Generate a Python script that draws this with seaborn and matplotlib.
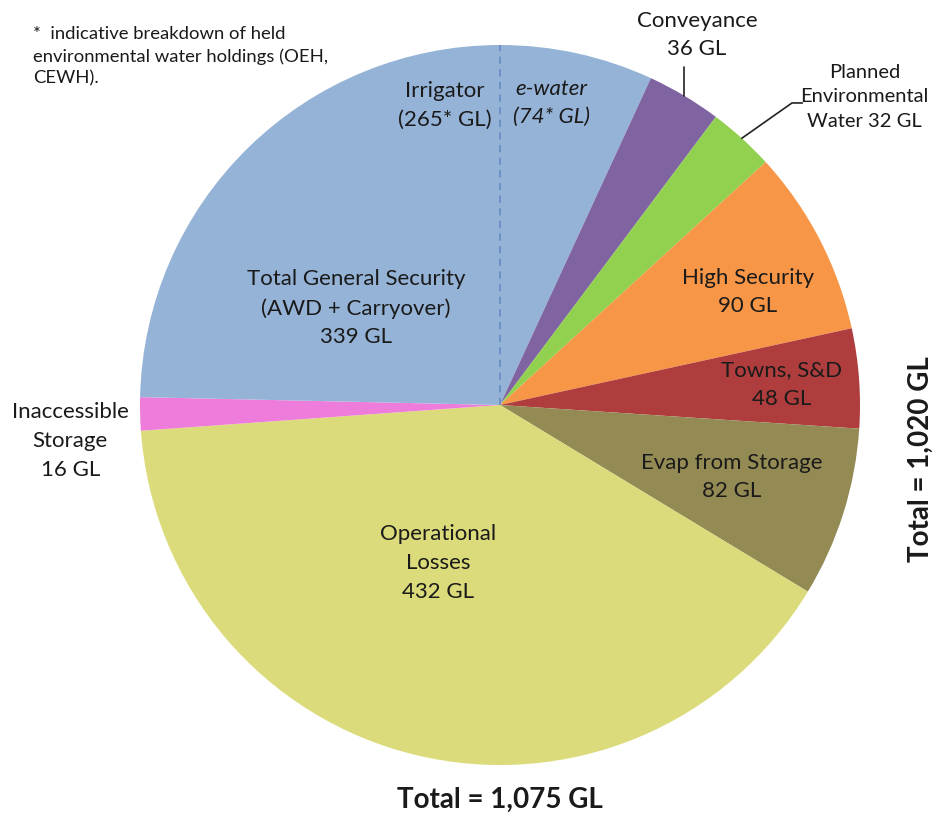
import numpy as np
import matplotlib
matplotlib.use("Agg")
import matplotlib.pyplot as plt
import seaborn as sns

# Data (GL), clockwise from 12 o'clock
categories = ["e-water", "Conveyance", "Planned Environmental Water", "High Security",
              "Towns, S&D", "Evap from Storage", "Operational Losses",
              "Inaccessible Storage", "Irrigator"]
values = [74, 36, 32, 90, 48, 82, 432, 16, 265]
colors = ["#95B3D7", "#8064A2", "#92D050", "#F79646", "#AF3D3D",
          "#948A54", "#DBDB7B", "#EE7CDA", "#95B3D7"]

sns.set_theme(style="white")
plt.rcParams['font.family'] = ['Lato', 'DejaVu Sans']

fig = plt.figure(figsize=(9.36, 8.14), dpi=100)
W, H = 936, 814
cx, cy, R = 500, 405, 360
ax = fig.add_axes([(cx - R) / W, (H - cy - R) / H, 2 * R / W, 2 * R / H])
wedges, _ = ax.pie(values, colors=sns.color_palette(colors), startangle=90,
                   counterclock=False, radius=1.0,
                   wedgeprops=dict(linewidth=0, edgecolor="none"))
ax.set_xlim(-1, 1)
ax.set_ylim(-1, 1)
ax.set_aspect("equal")
ax.axis("off")

# dashed divider between Irrigator and e-water (start of the pie)
a0 = np.deg2rad(wedges[0].theta2)
ax.plot([0, np.cos(a0)], [0, np.sin(a0)], ls=(0, (4, 3)), color="#6A8EC4", lw=1.3)

fs = 16
tc = "#1a1a1a"
def lab(x, y, s, **kw):
    kw.setdefault("fontsize", fs)
    kw.setdefault("linespacing", 1.55)
    ax.text(x, y, s, ha="center", va="center", color=tc,
            clip_on=False, **kw)

lab(-0.153, 0.833, "Irrigator\n(265* GL)")
lab(0.144, 0.839, "e-water\n(74* GL)", style="italic")
lab(-0.40, 0.269, "Total General Security\n(AWD + Carryover)\n339 GL")
lab(0.547, 1.028, "Conveyance\n36 GL")
lab(1.012, 0.856, "Planned\nEnvironmental\nWater 32 GL", fontsize=14.5, linespacing=1.55)
lab(0.689, 0.314, "High Security\n90 GL")
lab(0.783, 0.058, "Towns, S&D\n48 GL")
lab(0.644, -0.20, "Evap from Storage\n82 GL")
lab(-0.172, -0.439, "Operational\nLosses\n432 GL")
lab(-1.194, -0.10, "Inaccessible\nStorage\n16 GL")

# leader lines
w = wedges[1]
m = np.deg2rad((w.theta1 + w.theta2) / 2)
ax.plot([np.cos(m), np.cos(m)], [np.sin(m), 0.94], color="#222222", lw=1.2, clip_on=False)
w = wedges[2]
m = np.deg2rad((w.theta1 + w.theta2) / 2)
ax.plot([np.cos(m), 0.811, 0.84], [np.sin(m), 0.839, 0.839], color="#222222", lw=1.2,
        clip_on=False)

fig.text(33 / W, 1 - 26 / H, "*  indicative breakdown of held\nenvironmental water holdings (OEH,\nCEWH).",
         ha="left", va="top", fontsize=13.3, color=tc, linespacing=1.45)
fig.text(500 / W, 1 - 800 / H, "Total = 1,075 GL", ha="center", va="center",
         fontsize=20, fontweight="bold", color=tc)
fig.text(921 / W, 1 - 459 / H, "Total = 1,020 GL", ha="center", va="center",
         rotation=90, fontsize=20, fontweight="bold", color=tc)

fig.savefig("out.png", dpi=100, facecolor="white")
